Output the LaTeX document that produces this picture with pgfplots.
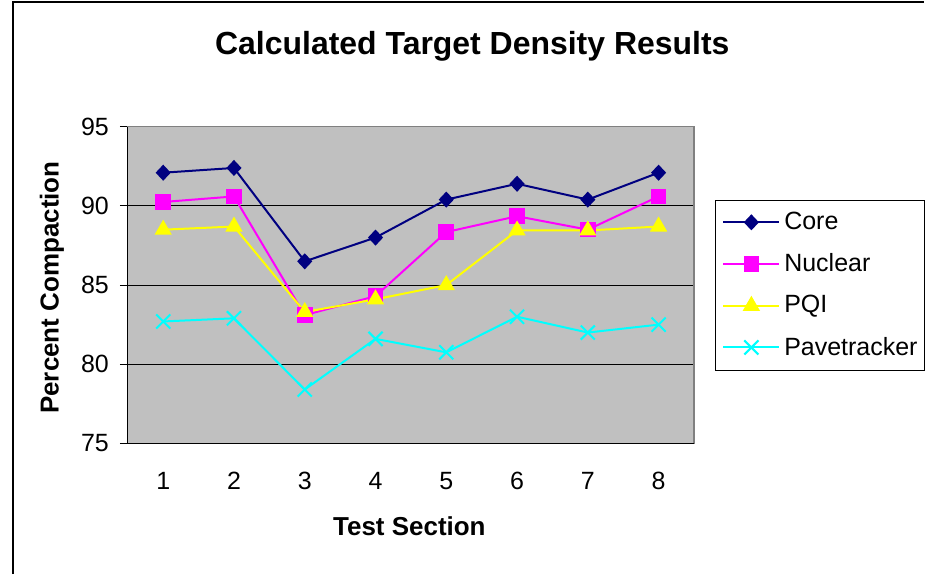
\documentclass[border=0pt]{standalone}
\usepackage{pgfplots}
\pgfplotsset{compat=1.18}
\usepackage{fontspec}
\setmainfont{Liberation Sans}
\definecolor{plotbg}{HTML}{C0C0C0}
\definecolor{core}{HTML}{000080}
\definecolor{nuclear}{HTML}{FF00FF}
\definecolor{pqi}{HTML}{FFFF00}
\definecolor{pave}{HTML}{00FFFF}
\begin{document}
\begin{tikzpicture}
\path (0pt,0pt) rectangle (462.5pt,287.5pt);
\draw[line width=0.8pt] (6.5pt,0pt) -- (6.5pt,286.5pt) -- (462.5pt,286.5pt);
\node[font=\bfseries\fontsize{16}{19}\selectfont] at (236.5pt,264.5pt) {Calculated Target Density Results};
\node[font=\bfseries\fontsize{13}{15}\selectfont, rotate=90] at (26pt,143.5pt) {Percent Compaction};
\node[font=\bfseries\fontsize{13}{15}\selectfont] at (205pt,24pt) {Test Section};
\begin{axis}[
  at={(64pt,65.5pt)}, anchor=south west,
  scale only axis, width=283.5pt, height=158.5pt,
  xmin=0.5, xmax=8.5, ymin=75, ymax=95,
  axis background/.style={fill=plotbg},
  axis line style={draw=gray, line width=0.6pt},
  xtick={1,...,8}, ytick={75,80,85,90,95},
  major x tick style={draw=none},
  extra x ticks={0.5,1.5,...,8.5}, extra x tick labels={},
  extra x tick style={grid=none, major tick length=4pt, tick style={draw=black, line width=0.5pt}},
  tick align=outside, tick pos=left,
  major tick length=4pt,
  ytick style={draw=black, line width=0.5pt},
  ymajorgrids, grid style={black, line width=0.5pt},
  /pgf/number format/assume math mode=true,
  tick label style={font=\fontsize{12.5}{14}\selectfont},
  xticklabel style={yshift=-7pt},
  yticklabel style={xshift=-2pt},
  clip=false,
  legend style={at={(1.037,0.5)}, anchor=west, draw=black, line width=0.5pt, fill=white,
    font=\fontsize{12.5}{14}\selectfont, row sep=6.5pt, inner xsep=1.5pt, inner ysep=4pt},
  legend cell align=left,
  legend image code/.code={
    \path (0pt,0pt);
    \draw[mark repeat=2,mark phase=2,#1] plot coordinates {(2pt,0pt) (16pt,0pt) (30pt,0pt)};
  },
]
\addplot[core, line width=1pt, mark=diamond*, mark size=3.3pt, mark options={xscale=1.25}] coordinates {
(1,92.1) (2,92.4) (3,86.5) (4,88.0) (5,90.4) (6,91.4) (7,90.4) (8,92.1)};
\addlegendentry{Core}
\addplot[nuclear, line width=1pt, mark=square*, mark size=3.4pt] coordinates {
(1,90.25) (2,90.6) (3,83.1) (4,84.3) (5,88.35) (6,89.35) (7,88.5) (8,90.6)};
\addlegendentry{Nuclear}
\addplot[pqi, line width=1pt, mark=triangle*, mark size=4pt] coordinates {
(1,88.5) (2,88.7) (3,83.3) (4,84.1) (5,85.0) (6,88.45) (7,88.45) (8,88.7)};
\addlegendentry{PQI}
\addplot[pave, line width=1pt, mark=x, mark size=5pt, mark options={line width=1pt}] coordinates {
(1,82.7) (2,82.9) (3,78.4) (4,81.6) (5,80.75) (6,83.0) (7,82.0) (8,82.5)};
\addlegendentry{Pavetracker}
\draw[black, line width=0.6pt] (rel axis cs:0,1) -- (rel axis cs:0,0) -- (rel axis cs:1,0);
\end{axis}
\end{tikzpicture}
\end{document}
